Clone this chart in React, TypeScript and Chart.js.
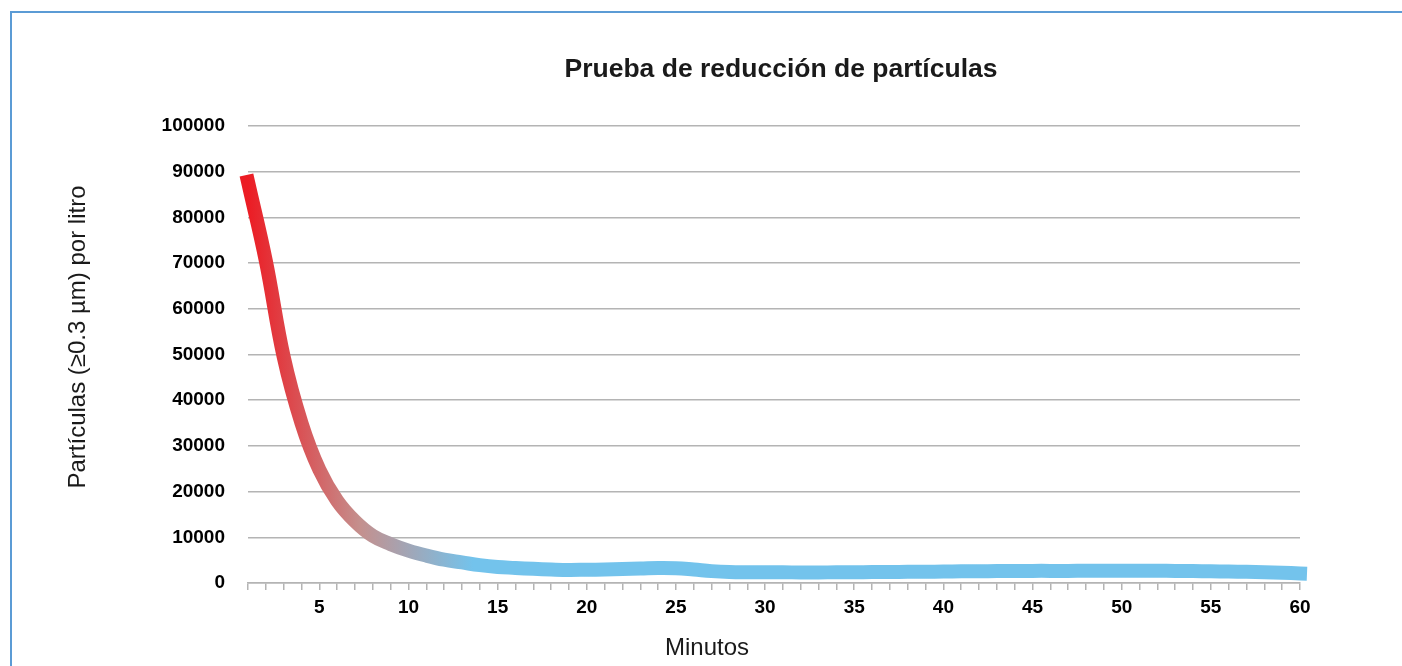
import React, { useEffect, useRef } from "react";
import { Chart, registerables } from "chart.js";

Chart.register(...registerables);

const chartTitle = "Prueba de reducción de partículas";
const xAxisTitle = "Minutos";
const yAxisTitle = "Partículas (≥0.3 µm) por litro";

const minutes = [
  1, 2, 3, 4, 5, 6, 7, 8, 9, 10,
  11, 12, 13, 14, 15, 16, 17, 18, 19, 20,
  21, 22, 23, 24, 25, 26, 27, 28, 29, 30,
  31, 32, 33, 34, 35, 36, 37, 38, 39, 40,
  41, 42, 43, 44, 45, 46, 47, 48, 49, 50,
  51, 52, 53, 54, 55, 56, 57, 58, 59, 60,
];

const particles = [
  87800, 70500, 49500, 35000, 24800, 18000, 13500, 10300, 8500, 7100,
  6000, 5100, 4500, 3900, 3500, 3300, 3100, 2950, 2850, 2900,
  2950, 3050, 3150, 3300, 3250, 2950, 2600, 2400, 2350, 2350,
  2350, 2300, 2300, 2350, 2350, 2400, 2400, 2450, 2450, 2500,
  2550, 2550, 2600, 2600, 2650, 2650, 2650, 2700, 2700, 2700,
  2700, 2700, 2650, 2600, 2550, 2500, 2450, 2350, 2250, 2100,
];

const labeledMinutes = [5, 10, 15, 20, 25, 30, 35, 40, 45, 50, 55, 60];
const yTickValues = [0, 10000, 20000, 30000, 40000, 50000, 60000, 70000, 80000, 90000, 100000];

const FAMILY = '"Liberation Sans", Arial, Helvetica, sans-serif';

export default function App() {
  const ref = useRef<HTMLCanvasElement>(null);

  useEffect(() => {
    document.body.style.overflow = "hidden";
    const canvas = ref.current;
    if (!canvas) return;

    const titlesPlugin = {
      id: "customTitles",
      afterDraw(chart: any) {
        const ctx = chart.ctx as CanvasRenderingContext2D;
        ctx.save();
        ctx.fillStyle = "#1a1a1a";
        ctx.textAlign = "center";
        ctx.textBaseline = "alphabetic";
        ctx.font = `bold 26.5px ${FAMILY}`;
        ctx.fillText(chartTitle, 781, 77);
        ctx.font = `24px ${FAMILY}`;
        ctx.fillText(xAxisTitle, 707, 655);
        ctx.translate(85, 337);
        ctx.rotate(-Math.PI / 2);
        ctx.fillText(yAxisTitle, 0, 0);
        ctx.restore();
      },
    };

    const chart = new Chart(canvas, {
      type: "line",
      data: {
        labels: minutes,
        datasets: [
          {
            data: particles,
            borderWidth: 14,
            pointRadius: 0,
            pointHoverRadius: 0,
            tension: 0.4,
            borderCapStyle: "square",
            borderJoinStyle: "round",
            fill: false,
            clip: false as any,
            borderColor: (c: any) => {
              const area = c.chart.chartArea;
              if (!area) return "#73c3ec";
              const g = c.chart.ctx.createLinearGradient(area.left, 0, area.left + 225, 0);
              g.addColorStop(0, "#ec1c24");
              g.addColorStop(0.5, "#c4908e");
              g.addColorStop(1, "#73c3ec");
              return g;
            },
          },
        ],
      },
      options: {
        responsive: false,
        animation: false,
        events: [],
        layout: { padding: { left: 148, right: 102, top: 126, bottom: 33 } },
        plugins: {
          legend: { display: false },
          title: { display: false },
          tooltip: { enabled: false },
        },
        scales: {
          x: {
            type: "category",
            offset: false,
            afterFit: (s: any) => {
              s.height = 50;
            },
            grid: {
              drawOnChartArea: false,
              drawTicks: true,
              tickLength: 7,
              color: "#b4b4b4",
              lineWidth: 1.5,
              offset: false,
            },
            border: { display: true, color: "#b4b4b4", width: 1.5 },
            ticks: {
              autoSkip: false,
              maxRotation: 0,
              minRotation: 0,
              padding: 6,
              color: "#000",
              font: { family: FAMILY, size: 19, weight: "bold" },
              callback: (_v: any, i: number) =>
                labeledMinutes.includes(minutes[i]) ? String(minutes[i]) : "",
            },
          },
          y: {
            min: 0,
            max: 100000,
            afterBuildTicks: (s: any) => {
              s.ticks = yTickValues.map((v) => ({ value: v }));
            },
            afterFit: (s: any) => {
              s.width = 100;
            },
            grid: { color: "#b4b4b4", lineWidth: 1.5, drawTicks: false },
            border: { display: false },
            ticks: {
              padding: 23,
              color: "#000",
              font: { family: FAMILY, size: 19, weight: "bold" },
              callback: (v: any) => String(v),
            },
          },
        },
      },
      plugins: [titlesPlugin],
    });

    return () => chart.destroy();
  }, []);

  return (
    <>
      <div
        style={{
          position: "fixed",
          left: 10,
          top: 11,
          width: 1600,
          height: 900,
          border: "2px solid #5b9bd5",
          boxSizing: "border-box",
          background: "#fff",
        }}
      />
      <canvas
        ref={ref}
        width={1402}
        height={666}
        style={{ position: "fixed", left: 0, top: 0, width: 1402, height: 666 }}
      />
    </>
  );
}
